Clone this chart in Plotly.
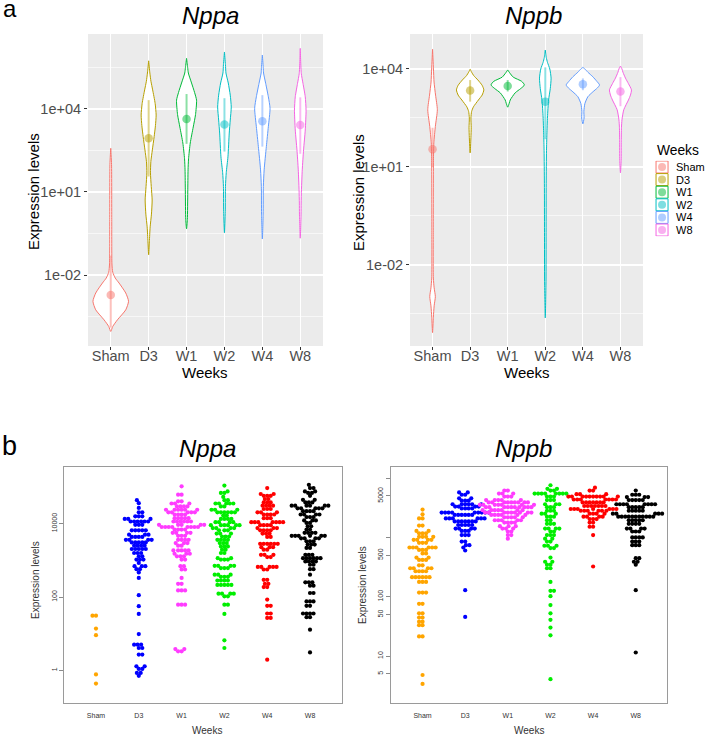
import math
import plotly.graph_objects as go

W_PX, H_PX = 708, 740
FONT = "Liberation Sans, Arial, Helvetica, sans-serif"

weeks = ["Sham", "D3", "W1", "W2", "W4", "W8"]
gg_colors = ["#F8766D", "#B79F00", "#00BA38", "#00BFC4", "#619CFF", "#F564E3"]
r_colors = ["#FFA500", "#0000FF", "#FF3CFF", "#00EE00", "#FF0000", "#000000"]

# ---------------- panel a: violin profiles (log10 level, relative density) ----------------
nppa_violin_levels = [
    [-4.04, -3.86, -3.62, -3.26, -2.95, -2.65, -2.29, -2.11, -1.9, -1.6, 0.0, 2.0, 2.58],
    [-1.27, -0.8, -0.26, 0.2, 0.71, 1.2, 1.69, 2.1, 2.52, 3.0, 3.4, 3.78, 4.2, 4.69, 5.0, 5.3, 5.74],
    [-0.33, 0.0, 1.0, 1.8, 2.2, 2.77, 3.35, 3.8, 4.32, 4.6, 4.94, 5.3, 5.5, 5.83],
    [-0.47, 0.3, 1.2, 1.7, 2.27, 3.13, 3.6, 4.07, 4.5, 4.94, 5.3, 5.6, 6.06],
    [-0.70, 0.2, 1.2, 1.8, 2.64, 3.36, 4.02, 4.44, 4.93, 5.3, 5.5, 5.95],
    [-0.67, 0.2, 0.6, 1.08, 1.8, 2.52, 3.24, 3.96, 4.44, 4.93, 5.29, 6.19],
]
nppa_violin_density = [
    [0, 2, 6.7, 15, 17.8, 15, 8.3, 4.5, 2, 1.2, 1.0, 0.8, 0],
    [0, 0.7, 1.5, 2.8, 3.5, 2.6, 1.8, 2.2, 3.7, 5.5, 6.8, 7.5, 6.5, 4.0, 2.3, 1.2, 0],
    [0, 0.8, 1.2, 1.5, 2.0, 3.7, 6.7, 9, 10, 8, 5, 1.8, 1.1, 0],
    [0, 0.8, 1.0, 1.8, 3.5, 4.8, 5.8, 6.8, 5.8, 3.8, 1.5, 1.0, 0],
    [0, 0.8, 1.0, 1.8, 4, 6, 7.7, 6, 3.3, 1.2, 0.9, 0],
    [0, 0.8, 0.9, 1.2, 2.0, 3.3, 5, 5.8, 5, 2.7, 1.0, 0],
]
nppb_violin_levels = [
    [-4.07, -3.6, -3.25, -2.97, -2.7, -2.4, -1.0, 0.5, 1.2, 1.74, 2.24, 2.75, 3.2, 3.6, 4.0, 4.6],
    [1.43, 1.9, 2.2, 2.5, 2.7, 2.84, 3.05, 3.2, 3.36, 3.5, 3.66, 3.8, 3.9, 3.99],
    [2.83, 2.95, 3.05, 3.27, 3.4, 3.51, 3.62, 3.75, 3.88, 3.97],
    [-3.62, -2.5, -1, 0.5, 1.5, 2.0, 2.53, 3.05, 3.4, 3.72, 4.0, 4.2, 4.35, 4.58],
    [2.32, 2.5, 2.7, 2.94, 3.15, 3.3, 3.42, 3.51, 3.62, 3.76, 3.9, 4.0, 4.05],
    [0.82, 1.2, 1.8, 2.2, 2.44, 2.75, 3.05, 3.2, 3.36, 3.55, 3.72, 3.9, 4.0, 4.09],
]
nppb_violin_density = [
    [0, 0.8, 1.6, 2.8, 1.6, 0.8, 0.7, 0.8, 0.9, 1.3, 2.8, 4.8, 3.0, 1.5, 0.9, 0],
    [0, 0.8, 1.1, 0.8, 1.5, 3.3, 8.3, 12, 13.7, 12, 7.8, 3.5, 1.5, 0],
    [0, 1.5, 2.5, 7.5, 13, 16.7, 14, 5.5, 2, 0],
    [0, 0.7, 0.8, 0.9, 1.2, 1.6, 2.2, 3.3, 5, 5.8, 4.5, 2.2, 1.0, 0],
    [0, 1.2, 1.0, 2, 5, 10, 14.5, 16.7, 14, 10, 5, 2, 0],
    [0, 0.7, 0.8, 1.0, 1.5, 3.3, 8, 10, 11, 8, 5, 2.5, 1.5, 0],
]

# summary (log10): mean and range
nppa_mean = [-2.72, 2.94, 3.64, 3.44, 3.56, 3.42]
nppa_lo = [-3.9, 1.56, 2.74, 2.46, 2.64, 2.38]
nppa_hi = [-1.3, 4.32, 4.54, 4.39, 4.50, 4.42]
nppb_mean = [1.54, 3.34, 3.48, 3.0, 3.53, 3.31]
nppb_lo = [1.0, 3.0, 3.31, 1.85, 3.35, 2.86]
nppb_hi = [2.2, 3.66, 3.66, 4.05, 3.71, 3.75]

# ---------------- panel b: beeswarm rows (log10 level, number of dots) ----------------
nppa_swarm = [
    [(1.49, 2), (1.14, 1), (0.96, 1), (-0.11, 1), (-0.36, 1)],
    [(4.64, 1), (4.56, 1), (4.43, 1), (4.31, 2), (4.20, 3), (4.13, 3), (4.06, 6), (3.97, 3), (3.82, 5),
     (3.70, 3), (3.64, 4), (3.56, 4), (3.49, 5), (3.40, 4), (3.31, 5), (3.20, 3), (3.11, 2), (3.02, 3),
     (2.93, 1), (2.84, 3), (2.76, 2), (2.67, 1), (2.52, 1), (2.05, 1), (1.75, 1), (1.54, 1), (0.99, 1),
     (0.70, 3), (0.61, 2), (0.43, 2), (0.11, 2), (0.04, 2), (-0.07, 2), (-0.15, 1)],
    [(5.02, 1), (4.79, 2), (4.61, 2), (4.55, 3), (4.47, 4), (4.38, 6), (4.31, 5), (4.25, 4), (4.15, 5),
     (4.06, 6), (3.97, 5), (3.91, 8), (3.84, 4), (3.75, 4), (3.67, 3), (3.56, 4), (3.47, 3), (3.40, 2),
     (3.27, 5), (3.18, 3), (3.11, 3), (3.02, 2), (2.84, 2), (2.75, 2), (2.52, 1), (2.36, 2), (2.18, 3),
     (1.79, 3), (0.58, 2), (0.52, 2)],
    [(5.04, 1), (4.88, 1), (4.84, 2), (4.73, 1), (4.64, 2), (4.55, 5), (4.47, 2), (4.38, 3), (4.31, 6),
     (4.22, 2), (4.13, 4), (4.04, 4), (3.96, 6), (3.88, 4), (3.82, 3), (3.73, 3), (3.65, 3), (3.56, 4),
     (3.47, 3), (3.38, 3), (3.29, 2), (3.20, 2), (3.06, 2), (3.02, 3), (2.85, 4), (2.79, 3), (2.61, 3),
     (2.55, 3), (2.45, 4), (2.33, 5), (2.09, 4), (2.02, 2), (1.79, 2), (1.54, 1), (0.82, 1), (0.61, 1)],
    [(4.97, 1), (4.81, 2), (4.76, 3), (4.67, 2), (4.58, 3), (4.49, 4), (4.40, 3), (4.31, 3), (4.25, 4),
     (4.15, 3), (4.04, 7), (3.96, 4), (3.88, 3), (3.82, 4), (3.73, 3), (3.64, 2), (3.45, 6), (3.36, 3),
     (3.29, 2), (3.15, 3), (3.09, 2), (2.82, 5), (2.75, 2), (2.47, 2), (2.36, 2), (2.27, 2), (1.93, 1),
     (1.76, 2), (1.55, 2), (1.43, 2), (0.29, 1)],
    [(5.06, 1), (4.97, 2), (4.88, 2), (4.84, 2), (4.76, 1), (4.65, 2), (4.58, 3), (4.49, 6), (4.42, 5),
     (4.34, 4), (4.25, 4), (4.18, 3), (4.09, 3), (4.02, 2), (3.93, 2), (3.84, 2), (3.75, 4), (3.67, 6),
     (3.60, 4), (3.52, 3), (3.43, 3), (3.34, 2), (3.15, 3), (3.06, 6), (2.97, 4), (2.88, 2), (2.76, 2),
     (2.61, 1), (2.40, 3), (2.31, 2), (2.11, 2), (1.88, 3), (1.76, 2), (1.55, 4), (1.45, 2), (1.11, 1),
     (0.49, 1)],
]
nppb_swarm = [
    [(3.47, 1), (3.39, 1), (3.32, 2), (3.20, 2), (3.11, 2), (3.07, 3), (3.01, 4), (2.96, 4), (2.91, 3),
     (2.83, 6), (2.79, 3), (2.73, 2), (2.66, 2), (2.62, 3), (2.53, 2), (2.48, 4), (2.43, 4), (2.33, 6),
     (2.25, 3), (2.07, 3), (1.88, 2), (1.72, 2), (1.65, 2), (1.58, 2), (1.52, 2), (1.33, 2), (0.68, 1),
     (0.53, 1)],
    [(3.76, 2), (3.72, 2), (3.66, 2), (3.62, 3), (3.56, 6), (3.52, 4), (3.49, 4), (3.42, 9), (3.38, 6),
     (3.32, 6), (3.27, 7), (3.21, 5), (3.15, 4), (3.11, 3), (3.04, 3), (2.93, 2), (2.87, 2), (2.83, 1),
     (2.78, 1), (2.11, 1), (1.66, 1)],
    [(3.79, 2), (3.74, 3), (3.69, 3), (3.63, 5), (3.59, 9), (3.55, 7), (3.51, 10), (3.46, 7), (3.42, 9),
     (3.38, 6), (3.34, 5), (3.29, 5), (3.25, 4), (3.19, 3), (3.15, 3), (3.10, 2), (3.04, 2), (2.98, 1)],
    [(3.88, 1), (3.82, 2), (3.79, 2), (3.74, 8), (3.69, 3), (3.63, 3), (3.56, 3), (3.51, 3), (3.45, 3),
     (3.40, 3), (3.35, 3), (3.29, 2), (3.23, 3), (3.15, 4), (3.10, 2), (3.04, 3), (2.98, 2), (2.93, 2),
     (2.86, 3), (2.82, 2), (2.66, 1), (2.59, 2), (2.54, 2), (2.48, 2), (2.25, 1), (2.10, 2), (2.01, 1),
     (1.86, 1), (1.72, 1), (1.61, 1), (1.48, 1), (1.35, 1), (0.61, 1)],
    [(3.84, 1), (3.79, 2), (3.73, 3), (3.69, 10), (3.64, 7), (3.59, 7), (3.53, 7), (3.48, 7), (3.45, 6),
     (3.40, 4), (3.35, 4), (3.31, 3), (3.25, 2), (3.18, 2), (3.04, 1), (2.51, 1)],
    [(3.79, 1), (3.72, 3), (3.68, 3), (3.63, 5), (3.56, 8), (3.51, 5), (3.45, 5), (3.40, 5), (3.35, 11),
     (3.29, 5), (3.23, 4), (3.15, 4), (3.10, 3), (3.00, 4), (2.93, 3), (2.87, 3), (2.65, 2), (2.59, 2),
     (2.54, 1), (2.11, 1), (1.06, 1)],
]

# ---------------- geometry (pixels) ----------------
TL = (88, 323, 34, 346)
TR = (410, 643, 34, 346)
BL = (64.3, 341.7, 466.7, 702.7)
BR = (391, 667.3, 466.7, 702.7)
TOP_XR = [0.4, 6.6]
BOT_XR = [0.26, 6.74]
TL_YR = [-4.566, 6.71]
TR_YR = [-4.48, 5.07]
BL_YR = [-0.882, 5.554]
BR_YR = [0.213, 4.193]


def dom_x(p):
    return [p[0] / W_PX, p[1] / W_PX]


def dom_y(p):
    return [1 - p[3] / H_PX, 1 - p[2] / H_PX]


def ppu_x(p, xr):
    return (p[1] - p[0]) / (xr[1] - xr[0])


def ppu_y(p, yr):
    return (p[3] - p[2]) / (yr[1] - yr[0])


def swarm_offsets(vals, xpu, ypu, d):
    order = sorted(range(len(vals)), key=lambda k: vals[k])
    placed = []
    offs = [0.0] * len(vals)
    for n, k in enumerate(order):
        y = vals[k] * ypu
        forb = []
        for (px, py) in placed:
            dy = abs(py - y)
            if dy < d:
                dx = math.sqrt(d * d - dy * dy)
                forb.append((px - dx, px + dx))
        cands = [0.0] + [a for iv in forb for a in iv]
        sgn = 1 if n % 2 else -1
        cands.sort(key=lambda c: (round(abs(c), 6), sgn * c))
        chosen = 0.0
        for c in cands:
            if all(not (a + 1e-7 < c < b - 1e-7) for a, b in forb):
                chosen = c
                break
        offs[k] = chosen / xpu
        placed.append((chosen, y))
    return offs


fig = go.Figure()


def add_violins(levels, dens, means, los, his, xa, ya, scale):
    for i in range(6):
        c = gg_colors[i]
        xc = i + 1
        lv, w = levels[i], dens[i]
        xs = [xc + wi * scale for wi in w] + [xc - wi * scale for wi in reversed(w)]
        ys = [10 ** l for l in lv] + [10 ** l for l in reversed(lv)]
        fig.add_trace(go.Scatter(x=xs, y=ys, mode="lines", fill="toself", fillcolor="white",
                                 line=dict(color=c, width=1, shape="spline", smoothing=0.6),
                                 xaxis=xa, yaxis=ya, showlegend=False, hoverinfo="skip"))
        fig.add_trace(go.Scatter(x=[xc, xc], y=[10 ** los[i], 10 ** his[i]], mode="lines",
                                 line=dict(color=c, width=2), opacity=0.45,
                                 xaxis=xa, yaxis=ya, showlegend=False, hoverinfo="skip"))
        fig.add_trace(go.Scatter(x=[xc], y=[10 ** means[i]], mode="markers",
                                 marker=dict(size=8.5, color=c, line=dict(width=0)), opacity=0.5,
                                 xaxis=xa, yaxis=ya, showlegend=False, hoverinfo="skip"))


add_violins(nppa_violin_levels, nppa_violin_density, nppa_mean, nppa_lo, nppa_hi, "x", "y",
            1 / ppu_x(TL, TOP_XR))
add_violins(nppb_violin_levels, nppb_violin_density, nppb_mean, nppb_lo, nppb_hi, "x2", "y2",
            1 / ppu_x(TR, TOP_XR))


def add_swarm(groups, xa, ya, geo, yr):
    xpu = ppu_x(geo, BOT_XR)
    ypu = ppu_y(geo, yr)
    for i, rows in enumerate(groups):
        vals = []
        for lvl, cnt in rows:
            vals += [lvl] * cnt
        offs = swarm_offsets(vals, xpu, ypu, 3.5)
        fig.add_trace(go.Scatter(x=[i + 1 + o for o in offs], y=[10 ** v for v in vals], mode="markers",
                                 marker=dict(size=4.2, color=r_colors[i], line=dict(width=0)),
                                 xaxis=xa, yaxis=ya, showlegend=False, hoverinfo="skip"))


add_swarm(nppa_swarm, "x3", "y3", BL, BL_YR)
add_swarm(nppb_swarm, "x4", "y4", BR, BR_YR)

# legend keys (mini axes)
LEG = (648, 700, 160.7, 236.3)
fig.add_trace(go.Scatter(x=[0.27] * 6, y=list(range(6)), mode="markers",
                         marker=dict(symbol="square", size=12, color="white",
                                     line=dict(color=gg_colors, width=1)),
                         xaxis="x5", yaxis="y5", showlegend=False, hoverinfo="skip"))
fig.add_trace(go.Scatter(x=[0.27] * 6, y=list(range(6)), mode="markers",
                         marker=dict(symbol="circle", size=8, color=gg_colors, line=dict(width=0)),
                         opacity=0.5, xaxis="x5", yaxis="y5", showlegend=False, hoverinfo="skip"))

grid_major = "white"
top_x = dict(range=TOP_XR, tickmode="array", tickvals=[1, 2, 3, 4, 5, 6], ticktext=weeks,
             showgrid=True, gridcolor=grid_major, gridwidth=1.2, ticks="outside", ticklen=3,
             tickcolor="#333333", tickwidth=1, tickfont=dict(size=14.5, color="#4D4D4D", family=FONT),
             ticklabelstandoff=-6,
             showline=False, zeroline=False, automargin=False, fixedrange=True)
minor_vals = [10 ** -3.5, 10 ** -0.5, 10 ** 2.5, 10 ** 5.5]


def top_y(yr):
    return dict(type="log", range=yr, tickmode="array", tickvals=[1e-2, 1e1, 1e4],
                ticktext=["1e-02", "1e+01", "1e+04"], showgrid=True, gridcolor=grid_major, gridwidth=1.2,
                minor=dict(tickmode="array", tickvals=minor_vals, showgrid=True, gridcolor=grid_major,
                           gridwidth=0.6, ticks=""),
                ticks="outside", ticklen=3, tickcolor="#333333", tickwidth=1,
                tickfont=dict(size=14.5, color="#4D4D4D", family=FONT), showline=False, zeroline=False,
                automargin=False, fixedrange=True)


bot_x = dict(range=BOT_XR, tickmode="array", tickvals=[1, 2, 3, 4, 5, 6], ticktext=weeks,
             showgrid=False, ticks="", tickfont=dict(size=7, color="#333333", family=FONT),
             ticklabelstandoff=6,
             showline=True, mirror=True, linecolor="#9a9a9a", linewidth=1, zeroline=False,
             automargin=False, fixedrange=True)


def bot_y(yr, tv, tt):
    return dict(type="log", range=yr, tickmode="array", tickvals=tv, ticktext=tt, tickangle=-90,
                showgrid=False, ticks="outside", ticklen=4, tickcolor="#8a8a8a", tickwidth=1,
                tickfont=dict(size=7, color="#333333", family=FONT), showline=True, mirror=True,
                linecolor="#9a9a9a", linewidth=1, zeroline=False, automargin=False, fixedrange=True)


fig.update_layout(
    width=W_PX, height=H_PX, margin=dict(l=0, r=0, t=0, b=0), autosize=False,
    paper_bgcolor="white", plot_bgcolor="rgba(0,0,0,0)", showlegend=False,
    font=dict(family=FONT),
    xaxis=dict(domain=dom_x(TL), anchor="y", **top_x),
    yaxis=dict(domain=dom_y(TL), anchor="x", **top_y(TL_YR)),
    xaxis2=dict(domain=dom_x(TR), anchor="y2", **top_x),
    yaxis2=dict(domain=dom_y(TR), anchor="x2", **top_y(TR_YR)),
    xaxis3=dict(domain=dom_x(BL), anchor="y3", **bot_x),
    yaxis3=dict(domain=dom_y(BL), anchor="x3",
                **bot_y(BL_YR, [1, 100, 10000], ["1", "100", "10000"])),
    xaxis4=dict(domain=dom_x(BR), anchor="y4", **bot_x),
    yaxis4=dict(domain=dom_y(BR), anchor="x4",
                **bot_y(BR_YR, [5, 10, 50, 100, 500, 1000, 5000, 10000],
                        ["5", "10", "50", "100", "500", "", "5000", ""])),
    xaxis5=dict(domain=dom_x(LEG), anchor="y5", range=[0, 1], visible=False, fixedrange=True),
    yaxis5=dict(domain=dom_y(LEG), anchor="x5", range=[5.5, -0.5], visible=False, fixedrange=True),
)

shapes = []
for xa, ya in (("x", "y"), ("x2", "y2")):
    shapes.append(dict(type="rect", xref=xa + " domain", yref=ya + " domain", x0=0, x1=1, y0=0, y1=1,
                       fillcolor="#EBEBEB", line=dict(width=0), layer="below"))
fig.update_layout(shapes=shapes)

anns = []


def ann(text, x, y, size, color="black", angle=0, xanchor="center", yanchor="middle"):
    anns.append(dict(text=text, x=x / W_PX, y=1 - y / H_PX, xref="paper", yref="paper",
                     showarrow=False, font=dict(size=size, color=color, family=FONT),
                     textangle=angle, xanchor=xanchor, yanchor=yanchor))


ann("a", 1, 9, 24, xanchor="left")
ann("b", 0, 446, 27, xanchor="left")
ann("<i>Nppa</i>", 210, 15, 24)
ann("<i>Nppb</i>", 533, 15, 24)
ann("Weeks", 205, 372, 15)
ann("Weeks", 527, 372, 15)
ann("Expression levels", 33, 192, 15, angle=-90)
ann("Expression levels", 358, 192, 15, angle=-90)
ann("Weeks", 655, 150, 13.8, xanchor="left")
for i, wk in enumerate(weeks):
    ann(wk, 674, 167 + 12.6 * i, 11, xanchor="left")
ann("<i>Nppa</i>", 207, 448, 24)
ann("<i>Nppb</i>", 523, 448, 24)
ann("Weeks", 207, 730, 10, color="#333333")
ann("Weeks", 529, 730, 10, color="#333333")
ann("Expression levels", 35, 580, 10, color="#333333", angle=-90)
ann("Expression levels", 362, 585, 10, color="#333333", angle=-90)
fig.update_layout(annotations=anns)

fig.write_html("out.html", config={"displayModeBar": False, "staticPlot": True},
               post_script="document.body.style.margin='0';document.body.style.overflow='hidden';")
